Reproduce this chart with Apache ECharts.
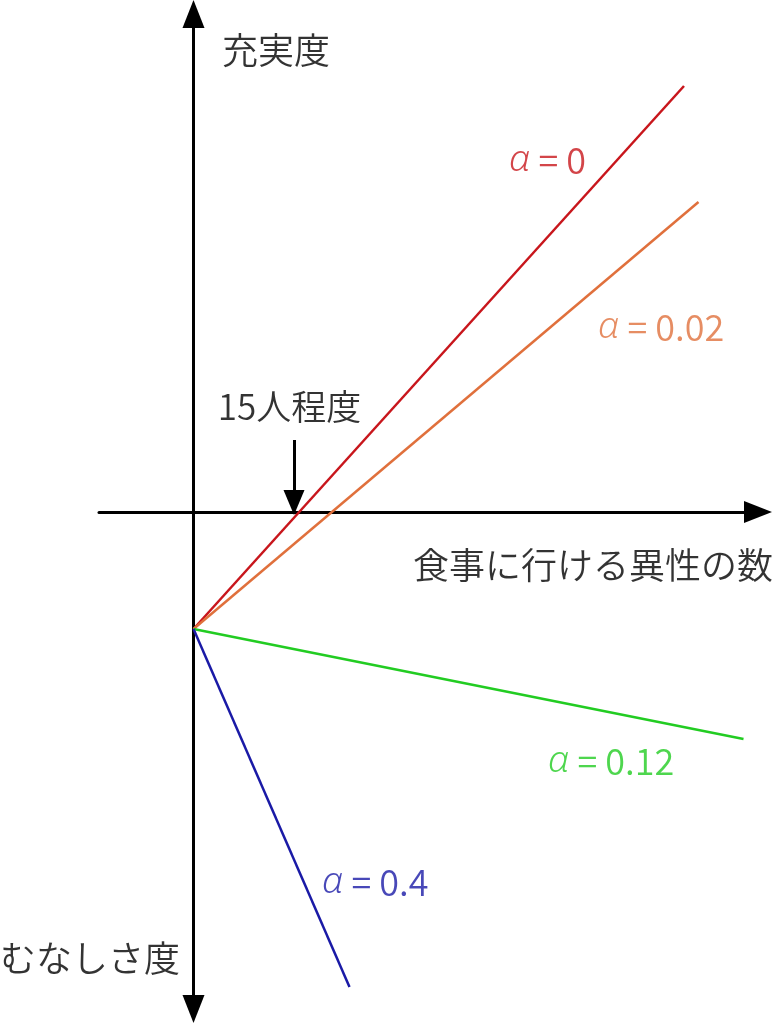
<!DOCTYPE html>
<html>
<head>
<meta charset="utf-8">
<script src="https://cdn.jsdelivr.net/npm/echarts@6/dist/echarts.min.js"></script>
<style>html,body{margin:0;padding:0;background:#fff}#c{width:774px;height:1024px}</style>
</head>
<body>
<div id="c"></div>
<script>
// Lines start on the vertical axis, below the origin
var startPoint = [0, -117];
var seriesNames = ['α = 0', 'α = 0.02', 'α = 0.12', 'α = 0.4'];
var alphaValues = ['0', '0.02', '0.12', '0.4'];
var endPoints = [[490.5, 426], [505, 310], [550, -227], [156, -475]];
var lineColors = ['#c8161c', '#e0703c', '#22cc22', '#1a1aa6'];
var labelPoints = [[315.5, 352], [404.5, 185], [354.5, -249.5], [128.5, -370]];
// annotation arrow "15人程度"
var annotationText = '15人程度';
var annotationPoint = [96, 105];
var arrowFrom = [100.5, 72];
var arrowTo = [100.5, 9.5];
// axis titles
var axisTitles = [
  {text: '充実度', pos: [28.5, 462], align: 'left'},
  {text: 'むなしさ度', pos: [-13.5, -446], align: 'right'},
  {text: '食事に行ける異性の数', pos: [579.5, -53], align: 'right'}
];
var xRange = [-94.5, 564.5];
var yRange = [-497, 498];

var font = '"Noto Sans CJK JP", "Noto Sans", sans-serif';
var chart = echarts.init(document.getElementById('c'));

var series = [];
seriesNames.forEach(function (name, i) {
  series.push({
    type: 'line',
    name: name,
    data: [startPoint, endPoints[i]],
    symbol: 'none',
    silent: true,
    clip: false,
    lineStyle: {color: lineColors[i], width: 2.5},
    z: 3
  });
});

function textLabel(extra) {
  var base = {
    show: true,
    position: 'inside',
    verticalAlign: 'middle',
    textBorderWidth: 0,
    textShadowBlur: 0,
    fontSize: 35,
    color: '#000',
    fontFamily: font,
    fontWeight: 350
  };
  for (var k in extra) base[k] = extra[k];
  return base;
}

series.push({
  type: 'scatter',
  symbolSize: 0,
  silent: true,
  clip: false,
  data: seriesNames.map(function (n, i) {
    return {
      value: labelPoints[i],
      label: textLabel({
        align: 'left',
        formatter: '{a|α}{b| = ' + alphaValues[i] + '}',
        color: lineColors[i],
        rich: {
          a: {fontStyle: 'italic', fontSize: 37, color: lineColors[i], fontFamily: '"Noto Sans", "DejaVu Sans", sans-serif', fontWeight: 300},
          b: {fontSize: 36, color: lineColors[i], fontFamily: font, fontWeight: 350}
        }
      })
    };
  })
});

series.push({
  type: 'scatter',
  symbolSize: 0,
  silent: true,
  clip: false,
  data: axisTitles.map(function (t) {
    return {
      value: t.pos,
      label: textLabel({align: t.align, formatter: t.text, fontSize: 36})
    };
  }).concat([{
    value: annotationPoint,
    label: textLabel({align: 'center', formatter: annotationText})
  }]),
  markLine: {
    silent: true,
    symbol: ['none', 'triangle'],
    symbolSize: [21, 25],
    label: {show: false},
    lineStyle: {color: '#000', width: 3, type: 'solid'},
    data: [[{coord: arrowFrom}, {coord: arrowTo}]]
  }
});

chart.setOption({
  animation: false,
  grid: {left: 99, right: 16, top: 14, bottom: 15},
  xAxis: {
    type: 'value',
    min: xRange[0],
    max: xRange[1],
    axisLine: {onZero: true, lineStyle: {color: '#000', width: 3}, symbol: ['none', 'triangle'], symbolSize: [22, 28]},
    axisTick: {show: false},
    axisLabel: {show: false},
    splitLine: {show: false}
  },
  yAxis: {
    type: 'value',
    min: yRange[0],
    max: yRange[1],
    axisLine: {onZero: true, lineStyle: {color: '#000', width: 3}, symbol: ['triangle', 'triangle'], symbolSize: [22, 28]},
    axisTick: {show: false},
    axisLabel: {show: false},
    splitLine: {show: false}
  },
  series: series
});
</script>
</body>
</html>
